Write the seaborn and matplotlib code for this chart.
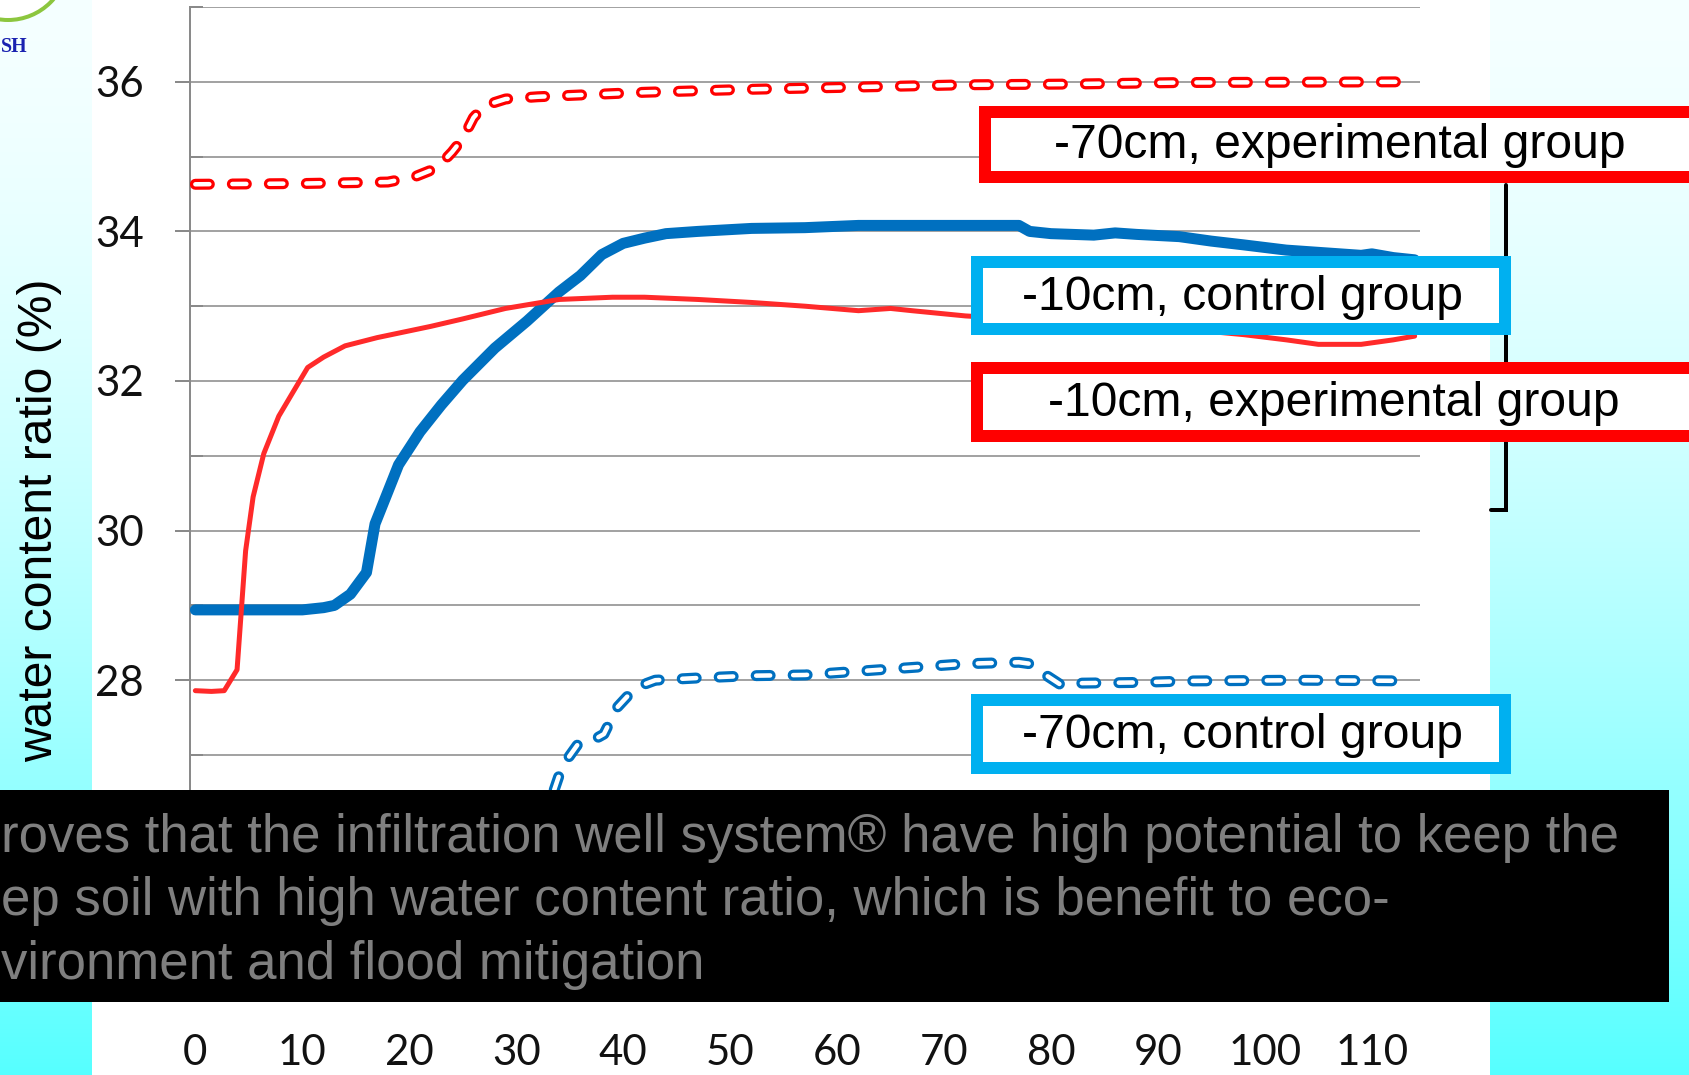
import numpy as np
import pandas as pd
import matplotlib
matplotlib.use("Agg")
import matplotlib.pyplot as plt
import seaborn as sns
from matplotlib.patches import Rectangle, Circle

# ---------------- data ----------------
series_names = ["-70cm, experimental group", "-10cm, control group",
                "-10cm, experimental group", "-70cm, control group"]

t_exp70 = [0, 10, 18, 20.5, 22.6, 24, 25, 26, 27, 29, 32, 42, 52, 62, 72, 82, 92, 114]
v_exp70 = [34.63, 34.64, 34.66, 34.73, 34.85, 35.06, 35.24, 35.52, 35.68, 35.77,
           35.80, 35.86, 35.90, 35.93, 35.96, 35.97, 35.99, 36.00]

t_ctl10 = [0, 5, 10, 12, 13, 14.5, 16, 16.8, 18, 19, 21, 23, 25, 28, 31, 34, 36, 38,
           40, 42, 44, 47, 52, 57, 62, 72, 77, 78, 80, 84, 86, 88, 92, 95, 98, 102,
           106, 109, 110, 112, 114]
v_ctl10 = [28.94, 28.94, 28.94, 28.97, 29.00, 29.15, 29.44, 30.09, 30.52, 30.88,
           31.32, 31.68, 32.01, 32.44, 32.80, 33.19, 33.41, 33.69, 33.84, 33.91,
           33.97, 34.00, 34.04, 34.05, 34.08, 34.08, 34.08, 34.00, 33.97, 33.95,
           33.98, 33.96, 33.93, 33.87, 33.82, 33.75, 33.71, 33.68, 33.70, 33.65, 33.62]

t_exp10 = [0, 1.5, 2.7, 3.9, 4.7, 5.4, 6.4, 7.8, 9, 10.5, 12, 14, 17, 22, 25, 29, 34,
           39, 42, 47, 52, 57, 62, 65, 67, 72, 78, 85, 92, 98, 102, 105, 109, 112, 114]
v_exp10 = [27.86, 27.85, 27.86, 28.14, 29.73, 30.45, 31.03, 31.53, 31.82, 32.18,
           32.32, 32.47, 32.58, 32.73, 32.83, 32.97, 33.09, 33.12, 33.12, 33.09,
           33.05, 33.00, 32.94, 32.97, 32.94, 32.87, 32.82, 32.76, 32.70, 32.62,
           32.55, 32.49, 32.49, 32.55, 32.60]

t_ctl70 = [0, 20, 28, 31, 33, 34.3, 35.8, 37.2, 38.2, 39.4, 40.5, 41.5, 43, 47, 52, 57,
           62, 67, 72, 77, 78, 79.5, 81, 82.5, 88, 93, 103, 114]
v_ctl70 = [24.6, 24.6, 24.8, 25.5, 26.3, 26.85, 27.15, 27.20, 27.28, 27.63, 27.80,
           27.92, 28.00, 28.03, 28.06, 28.07, 28.12, 28.17, 28.22, 28.24, 28.22,
           28.07, 27.93, 27.96, 27.97, 27.99, 28.00, 27.99]

x_ticks = [0, 10, 20, 30, 40, 50, 60, 70, 80, 90, 100, 110]
y_ticks = [24, 26, 28, 30, 32, 34, 36]
y_ticklabels = ['', '', '28', '30', '32', '34', '36']
y_label = "water content ratio (%)"
note_lines = ["roves that the infiltration well system® have high potential to keep the",
              "ep soil with high water content ratio, which is benefit to eco-",
              "vironment and flood mitigation"]

# ---------------- style ----------------
sns.set_theme(style="white")
plt.rcParams['font.family'] = ['Liberation Sans', 'DejaVu Sans']
plt.rcParams['lines.scale_dashes'] = False

W, H, DPI = 1690, 1075, 100
PT = 72.0 / DPI
fig = plt.figure(figsize=(W / DPI, H / DPI), dpi=DPI, facecolor='white')

# background (slide gradient strips)
bg = fig.add_axes([0, 0, 1, 1], zorder=-10)
g = np.linspace(0, 1, 256)
r = 0.96 - 0.62 * g ** 1.6
img = np.stack([r, np.ones_like(r), np.ones_like(r)], axis=-1)[:, None, :]
bg.imshow(img, extent=(0, 92, H, 0), aspect='auto', interpolation='bilinear')
bg.imshow(img, extent=(1490, W, H, 0), aspect='auto', interpolation='bilinear')
bg.set_xlim(0, W); bg.set_ylim(H, 0); bg.axis('off')

# main axes
ax = fig.add_axes([190 / W, 1 - 979.4 / H, 1230 / W, 972.4 / H], zorder=1)
ax.set_facecolor('none')

BLUE = '#0070c0'
RED = '#ff0000'
dash = (0, (14 * PT, 23 * PT))

d_ctl10 = pd.DataFrame({'t': t_ctl10, 'v': v_ctl10})
d_exp10 = pd.DataFrame({'t': t_exp10, 'v': v_exp10})
d_ctl70 = pd.DataFrame({'t': t_ctl70, 'v': v_ctl70})
d_exp70 = pd.DataFrame({'t': t_exp70, 'v': v_exp70})

sns.lineplot(data=d_ctl10, x='t', y='v', ax=ax, color=BLUE, linewidth=11 * PT,
             estimator=None, solid_capstyle='round', solid_joinstyle='round', zorder=3)
sns.lineplot(data=d_exp10, x='t', y='v', ax=ax, color='#ff2a2a', linewidth=5 * PT,
             estimator=None, solid_capstyle='round', solid_joinstyle='round', zorder=4)
for d, c in [(d_ctl70, BLUE), (d_exp70, RED)]:
    sns.lineplot(data=d, x='t', y='v', ax=ax, color=c, linewidth=11 * PT, linestyle=dash,
                 dash_capstyle='round', dash_joinstyle='round', estimator=None, zorder=5)
    sns.lineplot(data=d, x='t', y='v', ax=ax, color='white', linewidth=4.5 * PT, linestyle=dash,
                 dash_capstyle='round', dash_joinstyle='round', estimator=None, zorder=6)

ax.set_xlim(-0.5, 114.5)
ax.set_ylim(24, 37)
ax.set_xlabel(''); ax.set_ylabel('')
ax.set_xticks(x_ticks)
ax.set_xticklabels([str(v) for v in x_ticks])
ax.set_yticks(y_ticks)
ax.set_yticklabels(y_ticklabels)
ax.set_yticks(list(range(25, 38, 2)), minor=True)
ax.yaxis.grid(True, which='both', color='#a3a3a3', linewidth=2 * PT, zorder=0)
ax.xaxis.grid(False)
ax.set_axisbelow(True)
GRAY = '#8a8a8a'
ax.tick_params(axis='y', which='major', left=True, direction='out', length=15 * PT,
               width=2 * PT, color=GRAY, pad=31 * PT, labelsize=42 * PT, labelcolor='#111111')
ax.tick_params(axis='y', which='minor', left=True, direction='in', length=13 * PT,
               width=2 * PT, color=GRAY)
ax.tick_params(axis='x', which='both', bottom=False, length=0, pad=55 * PT,
               labelsize=42 * PT, labelcolor='#111111')
for lab in ax.get_xticklabels() + ax.get_yticklabels():
    lab.set_fontfamily(['Lato', 'DejaVu Sans'])
for s in ['top', 'right', 'bottom']:
    ax.spines[s].set_visible(False)
ax.spines['left'].set_color(GRAY)
ax.spines['left'].set_linewidth(2 * PT)

# overlay in pixel coordinates
ov = fig.add_axes([0, 0, 1, 1], zorder=20)
ov.set_xlim(0, W); ov.set_ylim(H, 0); ov.axis('off')
ov.patch.set_alpha(0)

# bracket
ov.plot([1506, 1506, 1491], [185, 510, 510], color='black', linewidth=4 * PT,
        solid_joinstyle='miter', zorder=1)

def label_box(x0, y0, x1, y1, color, text, tx, t=12):
    ov.add_patch(Rectangle((x0, y0), x1 - x0, y1 - y0, facecolor=color, edgecolor='none', zorder=2))
    ov.add_patch(Rectangle((x0 + t, y0 + t), x1 - x0 - 2 * t, y1 - y0 - 2 * t,
                           facecolor='white', edgecolor='none', zorder=3))
    ov.text(tx, (y0 + y1) / 2 + 14, text, fontsize=48 * PT, color='black',
            ha='left', va='baseline', zorder=4)

CYAN = '#00b0f0'
label_box(979, 106, 1722, 183, RED, series_names[0], 1054)
label_box(971, 256, 1511, 335, CYAN, series_names[1], 1022)
label_box(971, 362, 1722, 442, RED, series_names[2], 1048)
label_box(971, 694, 1511, 774, CYAN, series_names[3], 1022)

# y axis title
ov.text(52, 520, y_label, rotation=90, rotation_mode='anchor', ha='center',
        va='baseline', fontsize=48 * PT, color='black', zorder=5)

# logo fragment
ov.add_patch(Circle((8, -40), 60, facecolor='white', edgecolor='#8cc63e',
                    linewidth=4 * PT, zorder=5))
ov.text(1, 52, "SH", fontfamily=['Liberation Serif', 'DejaVu Serif'], fontweight='bold',
        fontsize=20 * PT, color='#1a22b0', ha='left', va='baseline', zorder=6)

# black caption box
ov.add_patch(Rectangle((0, 790), 1669, 212, facecolor='black', edgecolor='none', zorder=10))
for yb, line in zip([852, 915.5, 979], note_lines):
    ov.text(1, yb, line, fontsize=52.8 * PT, color='#7f7f7f',
            ha='left', va='baseline', zorder=11)

fig.savefig('out.png', dpi=DPI, facecolor='white')
